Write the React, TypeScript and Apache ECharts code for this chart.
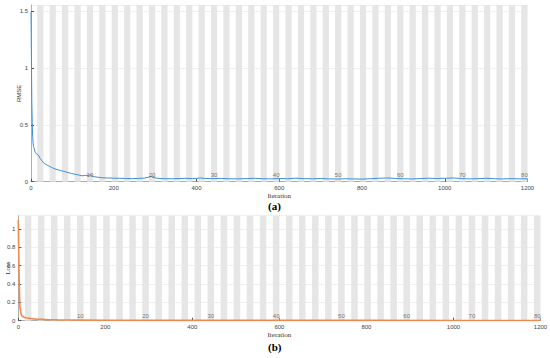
import React, { useEffect, useRef } from "react";
import * as echarts from "echarts";

const rmseIter = [0, 1, 2, 3, 4, 5, 6, 8, 10, 13, 16, 19, 22, 26, 30, 35, 42, 50, 58, 66, 74, 82, 90, 98, 106, 114, 123, 131, 139, 145, 150, 160, 171, 185, 200, 215, 230, 245, 260, 275, 285, 290, 295, 305, 320, 340, 360, 375, 390, 400, 410, 420, 440, 460, 480, 500, 520, 540, 560, 580, 600, 620, 640, 660, 680, 700, 720, 740, 760, 780, 800, 820, 840, 860, 880, 900, 920, 940, 960, 980, 1000, 1020, 1040, 1060, 1080, 1100, 1120, 1140, 1160, 1180, 1200];
const rmseVal = [1.49, 1.1, 0.7, 0.52, 0.4, 0.34, 0.31, 0.29, 0.26, 0.245, 0.24, 0.225, 0.205, 0.185, 0.168, 0.155, 0.14, 0.125, 0.112, 0.104, 0.096, 0.088, 0.08, 0.072, 0.066, 0.06, 0.052, 0.055, 0.056, 0.06, 0.045, 0.04, 0.035, 0.033, 0.031, 0.03, 0.028, 0.027, 0.029, 0.032, 0.04, 0.047, 0.038, 0.03, 0.027, 0.026, 0.028, 0.03, 0.027, 0.029, 0.033, 0.028, 0.027, 0.029, 0.026, 0.025, 0.027, 0.03, 0.026, 0.025, 0.028, 0.026, 0.031, 0.027, 0.025, 0.028, 0.025, 0.023, 0.026, 0.024, 0.023, 0.026, 0.03, 0.033, 0.029, 0.026, 0.024, 0.027, 0.031, 0.028, 0.03, 0.033, 0.028, 0.025, 0.027, 0.03, 0.026, 0.024, 0.027, 0.025, 0.026];

const lossIter = [0, 1, 2, 3, 4, 6, 8, 11, 15, 20, 27, 35, 45, 57, 70, 90, 120, 150, 200, 300, 400, 600, 800, 1000, 1200];
const lossVal = [1.1, 0.75, 0.45, 0.25, 0.14, 0.08, 0.055, 0.042, 0.035, 0.03, 0.025, 0.02, 0.016, 0.014, 0.011, 0.009, 0.007, 0.006, 0.005, 0.004, 0.0035, 0.003, 0.003, 0.0025, 0.0025];

const epochCount = 80;
const itersPerEpoch = 15;
const epochLabels = ["10", "20", "30", "40", "50", "60", "70", "80"];
const epochLabelAt = [10, 20, 30, 40, 50, 60, 70, 80];

const SANS = "Liberation Sans";
const SERIF = "Liberation Serif";

function stripes() {
  const arr: any[] = [];
  for (let e = 2; e <= epochCount; e += 2) {
    arr.push([{ xAxis: (e - 1) * itersPerEpoch }, { xAxis: e * itersPerEpoch }]);
  }
  return arr;
}

function epochPoints(y: number) {
  return epochLabelAt.map((e, i) => ({
    value: [(e - 0.5) * itersPerEpoch, y],
    label: { formatter: epochLabels[i] },
  }));
}

export default function App() {
  const ref = useRef<HTMLDivElement>(null);
  useEffect(() => {
    const chart = echarts.init(ref.current!, null, { renderer: "svg" });
    const axisLabel = {
      fontFamily: SANS,
      fontSize: 6,
      color: "#444",
      margin: 3,
      formatter: (v: number) => String(v),
    };
    const xAxisBase = {
      type: "value",
      min: 0,
      max: 1200,
      interval: 200,
      axisLine: { show: true, lineStyle: { color: "#9a9a9a", width: 0.8 } },
      axisTick: { show: true, inside: true, length: 3, lineStyle: { color: "#555" } },
      axisLabel,
      splitLine: { show: false },
      name: "Iteration",
      nameLocation: "middle",
      nameGap: 11,
      nameMoveOverlap: false,
      nameTextStyle: { fontFamily: SERIF, fontSize: 7, color: "#333" },
    };
    const yBase = {
      type: "value",
      min: 0,
      axisLine: { show: true, lineStyle: { color: "#9a9a9a", width: 0.8 } },
      axisTick: { show: true, inside: true, length: 3, lineStyle: { color: "#555" } },
      axisLabel: { ...axisLabel, showMaxLabel: false },
      splitLine: { show: true, lineStyle: { color: "#ececec", width: 0.8 } },
      nameLocation: "middle",
      nameMoveOverlap: false,
    };
    chart.setOption({
      animation: false,
      grid: [
        { left: 31, right: 22.5, top: 5, bottom: 176.3, containLabel: false, outerBoundsMode: "none" },
        { left: 18.3, right: 9.5, top: 215.7, bottom: 37.3, containLabel: false, outerBoundsMode: "none" },
      ],
      xAxis: [
        { ...xAxisBase, gridIndex: 0 },
        { ...xAxisBase, gridIndex: 1 },
      ],
      yAxis: [
        {
          ...yBase,
          gridIndex: 0,
          max: 1.553,
          interval: 0.5,
          name: "RMSE",
          nameGap: 9,
          nameTextStyle: { fontFamily: SANS, fontSize: 6, color: "#333" },
        },
        {
          ...yBase,
          gridIndex: 1,
          max: 1.145,
          interval: 0.2,
          name: "Loss",
          nameGap: 7,
          nameTextStyle: { fontFamily: SERIF, fontSize: 7, color: "#333" },
        },
      ],
      series: [
        {
          type: "line",
          xAxisIndex: 0,
          yAxisIndex: 0,
          data: rmseIter.map((x, i) => [x, rmseVal[i]]),
          showSymbol: false,
          lineStyle: { color: "#3d8fd6", width: 1 },
          z: 5,
          markArea: { silent: true, itemStyle: { color: "#e6e6e6" }, data: stripes() },
        },
        {
          type: "line",
          xAxisIndex: 1,
          yAxisIndex: 1,
          data: lossIter.map((x, i) => [x, lossVal[i]]),
          showSymbol: false,
          lineStyle: { color: "#ef8a4f", width: 1.6 },
          z: 5,
          markArea: { silent: true, itemStyle: { color: "#e6e6e6" }, data: stripes() },
        },
        {
          type: "scatter",
          xAxisIndex: 0,
          yAxisIndex: 0,
          symbolSize: 0,
          z: 6,
          data: epochPoints(0.059),
          label: { show: true, position: "inside", fontFamily: SANS, fontSize: 6, color: "#555" },
        },
        {
          type: "scatter",
          xAxisIndex: 1,
          yAxisIndex: 1,
          symbolSize: 0,
          z: 6,
          data: epochPoints(0.055),
          label: { show: true, position: "inside", fontFamily: SANS, fontSize: 6, color: "#555" },
        },
      ],
      graphic: [
        {
          type: "text",
          left: 268,
          top: 200,
          style: { text: "(a)", font: "bold 11px 'Liberation Serif'", fill: "#000" },
        },
        {
          type: "text",
          left: 268,
          top: 341,
          style: { text: "(b)", font: "bold 11px 'Liberation Serif'", fill: "#000" },
        },
      ],
    });
    return () => chart.dispose();
  }, []);
  return <div ref={ref} style={{ width: 550, height: 358, position: "absolute", left: 0, top: 0 }} />;
}
